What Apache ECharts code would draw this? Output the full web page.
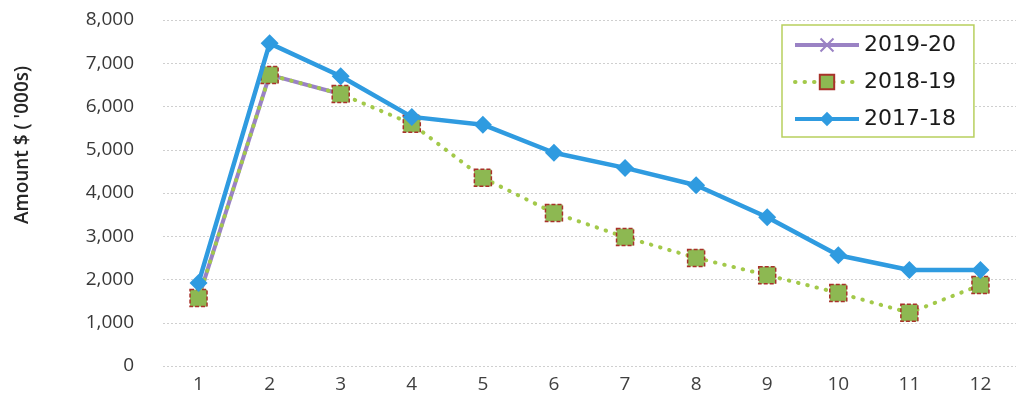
<!DOCTYPE html>
<html>
<head>
<meta charset="utf-8">
<script src="https://cdn.jsdelivr.net/npm/echarts@6/dist/echarts.min.js"></script>
<style>
  html, body { margin: 0; padding: 0; background: #ffffff; }
  #chart { width: 1016px; height: 403px; }
</style>
</head>
<body>
<div id="chart"></div>
<script>
// Months 1..12 of each financial year, amounts in $'000s
const months = ['1', '2', '3', '4', '5', '6', '7', '8', '9', '10', '11', '12'];
const fy2019_20 = [1570, 6730, 6290, null, null, null, null, null, null, null, null, null];
const fy2018_19 = [1570, 6730, 6290, 5600, 4350, 3540, 2980, 2500, 2100, 1690, 1230, 1870];
const fy2017_18 = [1920, 7460, 6700, 5760, 5580, 4930, 4580, 4180, 3440, 2560, 2220, 2220];
const yTicks = { min: 0, max: 8000, step: 1000 };

// Filled "x" cross used as the 2019-20 marker
const crossSymbol = 'path://M0,1 L1,0 L5,4 L9,0 L10,1 L6,5 L10,9 L9,10 L5,6 L1,10 L0,9 L4,5 Z';

const chart = echarts.init(document.getElementById('chart'), null, { renderer: 'canvas' });

chart.setOption({
  animation: false,
  backgroundColor: '#ffffff',
  grid: { left: 163, top: 20, width: 859, height: 346, containLabel: false },
  xAxis: {
    type: 'category',
    data: months,
    boundaryGap: true,
    axisLine: { show: false },
    axisTick: { show: false },
    axisLabel: { color: '#404040', fontSize: 19, fontFamily: 'Open Sans', margin: 9 }
  },
  yAxis: {
    type: 'value',
    min: yTicks.min,
    max: yTicks.max,
    interval: yTicks.step,
    axisLine: { show: false },
    axisTick: { show: false },
    axisLabel: {
      color: '#383838', fontSize: 19, fontFamily: 'Open Sans', margin: 29,
      formatter: v => v.toLocaleString('en-US')
    },
    splitLine: { lineStyle: { color: '#cfcfcf', type: [2, 2], width: 1 } }
  },
  legend: {
    orient: 'vertical',
    left: 782,
    top: 25,
    padding: [9, 18, 7, 11],
    itemWidth: 64,
    itemHeight: 18,
    itemGap: 15,
    borderColor: '#b8cf5e',
    borderWidth: 1.5,
    backgroundColor: '#ffffff',
    lineStyle: { width: 4 },
    textStyle: { color: '#1a1a1a', fontSize: 22, fontFamily: 'DejaVu Sans' },
    data: ['2019-20', '2018-19', '2017-18']
  },
  graphic: [{
    type: 'text',
    x: 23,
    y: 145,
    rotation: Math.PI / 2,
    style: {
      text: "Amount $ ( '000s)",
      fill: '#262626',
      font: '600 19px "Open Sans"',
      textAlign: 'center',
      textVerticalAlign: 'middle'
    }
  }],
  series: [
    {
      name: '2019-20',
      type: 'line',
      data: fy2019_20,
      symbol: crossSymbol,
      symbolSize: 12,
      lineStyle: { color: '#9a82c4', width: 4 },
      itemStyle: { color: '#9a82c4' },
      z: 2
    },
    {
      name: '2018-19',
      type: 'line',
      data: fy2018_19,
      symbol: 'rect',
      symbolSize: 17,
      lineStyle: { color: '#a3c94a', width: 4, type: [0.5, 9], cap: 'round' },
      itemStyle: { color: '#8db852', borderColor: '#a8322a', borderWidth: 1.5, borderType: [4, 2] },
      z: 3
    },
    {
      name: '2017-18',
      type: 'line',
      data: fy2017_18,
      symbol: 'diamond',
      symbolSize: 18,
      lineStyle: { color: '#2f9be0', width: 4.5 },
      itemStyle: { color: '#2f9be0' },
      z: 4
    }
  ]
});
</script>
</body>
</html>
